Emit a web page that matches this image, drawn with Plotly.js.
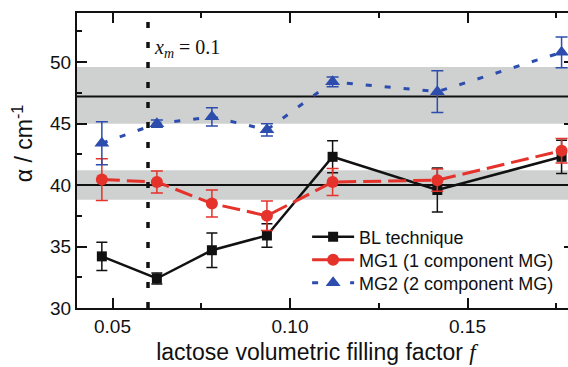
<!DOCTYPE html>
<html>
<head>
<meta charset="utf-8">
<script src="https://cdn.plot.ly/plotly-3.0.1.min.js"></script>
<style>html,body{margin:0;padding:0;overflow:hidden;background:#fff;}</style>
</head>
<body>
<div id="chart"></div>
<script>
// Data
const fillFactor = [0.047, 0.0625, 0.078, 0.0935, 0.112, 0.1415, 0.1765];

const blAlpha = [34.2, 32.4, 34.7, 35.9, 42.3, 39.6, 42.3];
const blErr   = [1.15, 0.45, 1.4, 0.95, 1.3, 1.8, 1.35];

const mg1Alpha = [40.45, 40.25, 38.5, 37.5, 40.25, 40.4, 42.8];
const mg1Err   = [1.7, 0.9, 1.1, 1.2, 1.1, 0.9, 1.0];

const mg2Alpha = [43.4, 45.0, 45.55, 44.5, 48.4, 47.6, 50.8];
const mg2Err   = [1.75, 0.3, 0.75, 0.5, 0.4, 1.7, 1.25];

const seriesNames = ["BL technique", "MG1 (1 component MG)", "MG2 (2 component MG)"];

// Reference bands and lines
const upperBand = [45.0, 49.6];
const upperLine = 47.2;
const lowerBand = [38.8, 41.2];
const lowerLine = 40.0;
const xm = 0.06;

const xTicks = [0.05, 0.10, 0.15];
const xTickText = ["0.05", "0.10", "0.15"];
const yTicks = [30, 35, 40, 45, 50];

const RED = "#e5322b";
const BLUE = "#2c4dad";

const traces = [
  {
    x: fillFactor, y: blAlpha, name: seriesNames[0], type: "scatter", mode: "lines+markers",
    legend: "legend",
    line: {color: "#111", width: 2.5},
    marker: {symbol: "square", size: 10, color: "#111"},
    error_y: {type: "data", array: blErr, visible: true, color: "#111", thickness: 1.5, width: 5.5}
  },
  {
    x: fillFactor, y: mg1Alpha, name: seriesNames[1], type: "scatter", mode: "lines+markers",
    legend: "legend2",
    line: {color: RED, width: 3, dash: "18px,7px"},
    marker: {symbol: "circle", size: 12, color: RED},
    error_y: {type: "data", array: mg1Err, visible: true, color: RED, thickness: 1.5, width: 6}
  },
  {
    x: fillFactor, y: mg2Alpha, name: seriesNames[2], type: "scatter", mode: "lines+markers",
    legend: "legend3",
    line: {color: BLUE, width: 3, dash: "6px,13px"},
    marker: {symbol: "triangle-up", size: 13, color: BLUE},
    error_y: {type: "data", array: mg2Err, visible: true, color: BLUE, thickness: 1.5, width: 6}
  }
];

function legendAt(yPaper) {
  return {
    x: 0.463, y: yPaper, xanchor: "left", yanchor: "middle",
    bgcolor: "rgba(0,0,0,0)", font: {size: 18, color: "#111"},
    itemwidth: 42
  };
}

const layout = {
  width: 578, height: 367,
  margin: {l: 77, r: 4, t: 13, b: 59},
  paper_bgcolor: "#fff", plot_bgcolor: "#fff",
  font: {family: "Liberation Sans, Arial, sans-serif", size: 19, color: "#111"},
  showlegend: true,
  legend: legendAt(0.2407),
  legend2: legendAt(0.1627),
  legend3: legendAt(0.0847),
  xaxis: {
    range: [0.04, 0.18],
    tickvals: xTicks, ticktext: xTickText,
    ticks: "inside", ticklen: 10, tickwidth: 2, tickcolor: "#111",
    minor: {tickvals: [0.075, 0.125, 0.175], ticks: "inside", ticklen: 5, tickwidth: 2, tickcolor: "#111"},
    showline: true, linecolor: "#111", linewidth: 2, mirror: "ticks",
    showgrid: false, zeroline: false,
    tickfont: {size: 19},
    title: {text: "lactose volumetric filling factor <span style=\"font-family:Liberation Serif\"><i>f</i></span>&nbsp;&nbsp;&nbsp;", font: {size: 23}, standoff: 8}
  },
  yaxis: {
    range: [30, 54],
    tickvals: yTicks,
    ticks: "inside", ticklen: 10, tickwidth: 2, tickcolor: "#111",
    minor: {tickvals: [32.5, 37.5, 42.5, 47.5, 52.5], ticks: "inside", ticklen: 5, tickwidth: 2, tickcolor: "#111"},
    showline: true, linecolor: "#111", linewidth: 2, mirror: "ticks",
    showgrid: false, zeroline: false,
    tickfont: {size: 19}
  },
  shapes: [
    {type: "rect", xref: "paper", x0: 0, x1: 1, yref: "y", y0: upperBand[0], y1: upperBand[1], fillcolor: "#cfd0d0", line: {width: 0}, layer: "below"},
    {type: "rect", xref: "paper", x0: 0, x1: 1, yref: "y", y0: lowerBand[0], y1: lowerBand[1], fillcolor: "#cfd0d0", line: {width: 0}, layer: "below"},
    {type: "line", xref: "paper", x0: 0, x1: 1, yref: "y", y0: upperLine, y1: upperLine, line: {color: "#111", width: 2}, layer: "below"},
    {type: "line", xref: "paper", x0: 0, x1: 1, yref: "y", y0: lowerLine, y1: lowerLine, line: {color: "#111", width: 2}, layer: "below"},
    {type: "line", xref: "x", x0: xm, x1: xm, yref: "paper", y0: 0, y1: 1, line: {color: "#111", width: 3.5, dash: "6px,14px"}, layer: "below"}
  ],
  annotations: [
    {
      text: "<i>x</i><sub><i>m</i></sub> = 0.1",
      xref: "x", x: 0.0612, yref: "paper", y: 0.88, xanchor: "left", yanchor: "middle",
      showarrow: false, font: {family: "Liberation Serif, Times New Roman, serif", size: 20, color: "#111"}
    },
    {
      text: "α / cm<sup>-1</sup>",
      xref: "paper", x: -0.11, yref: "paper", y: 0.56, xanchor: "center", yanchor: "middle",
      textangle: -90, showarrow: false, font: {size: 23, color: "#111"}
    }
  ]
};

Plotly.newPlot("chart", traces, layout, {staticPlot: true, displayModeBar: false});
</script>
</body>
</html>
